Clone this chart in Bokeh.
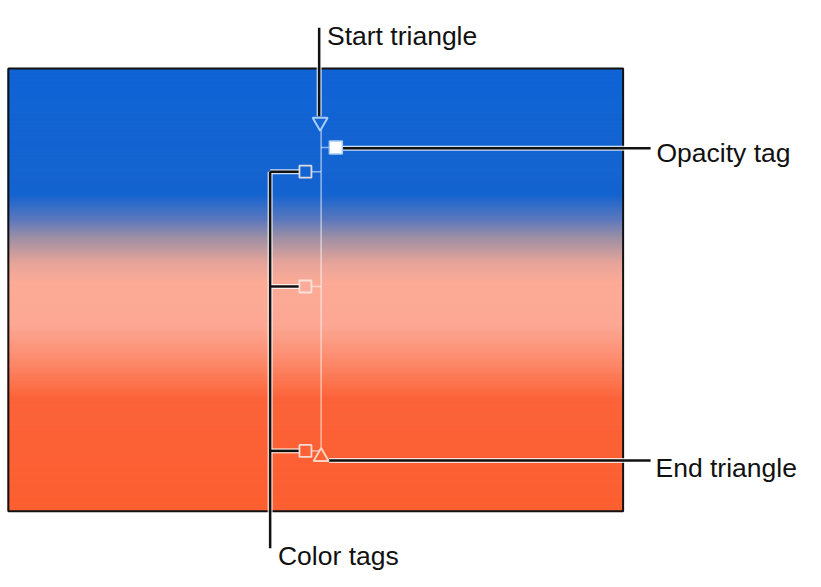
import numpy as np
from bokeh.plotting import figure
from bokeh.models import Range1d
from bokeh.core.properties import value
from bokeh.embed import file_html
from bokeh.resources import INLINE

# ---- data (reference pixel coordinates) ----
panel_x = [8, 635]
panel_y = [70, 525]
grad_stop_y = [70, 200, 225, 245, 270, 290, 335, 370, 410, 525]
grad_stop_r = [18, 22, 90, 160, 230, 252, 252, 252, 252, 252]
grad_stop_g = [100, 100, 120, 145, 165, 172, 168, 140, 100, 96]
grad_stop_b = [214, 208, 190, 165, 155, 152, 148, 110, 58, 50]

gradient_line_x = 327
gradient_line_y = [133, 463]
start_tri = (326, 125)
end_tri = (327, 469)
opacity_tag = (342, 151)
color_tag_x = 311
color_tag_y = [176, 294, 463]
color_tag_fill = ["#1464d4", "#fcab98", "#fc6236"]

labels = ["Start triangle", "Opacity tag", "End triangle", "Color tags"]
label_x = [333, 669, 668, 283]
label_y = [37, 157, 481, 571]

W, H = 805, 571
p = figure(width=W, height=H, output_backend="svg", toolbar_location=None,
           x_range=Range1d(0, 821), y_range=Range1d(587, 0),
           min_border=0, outline_line_color=None)
p.axis.visible = False
p.grid.visible = False
p.background_fill_color = "white"
p.border_fill_color = "white"

# gradient panel: overlapping quads per pixel row (no seams)
ys = np.arange(panel_y[0], panel_y[1])
r = np.interp(ys + 0.5, grad_stop_y, grad_stop_r)
g = np.interp(ys + 0.5, grad_stop_y, grad_stop_g)
b = np.interp(ys + 0.5, grad_stop_y, grad_stop_b)
cols = ["#%02x%02x%02x" % (int(a), int(c), int(d)) for a, c, d in zip(r, g, b)]
bottoms = np.minimum(ys + 3, panel_y[1])
p.quad(left=panel_x[0], right=panel_x[1], top=ys, bottom=bottoms,
       fill_color=cols, line_color=cols, line_width=1)
p.quad(left=panel_x[0], right=panel_x[1], top=panel_y[0], bottom=panel_y[1],
       fill_color=None, line_color="#111111", line_width=2)

# thin gradient control line and connectors
p.segment(x0=gradient_line_x, y0=gradient_line_y[0], x1=gradient_line_x, y1=gradient_line_y[1],
          line_color="white", line_alpha=0.55, line_width=1.5)
p.segment(x0=gradient_line_x, y0=opacity_tag[1], x1=opacity_tag[0] - 6, y1=opacity_tag[1],
          line_color="white", line_alpha=0.55, line_width=1.5)
p.segment(x0=[color_tag_x + 6] * 3, y0=color_tag_y, x1=[gradient_line_x] * 3, y1=color_tag_y,
          line_color="white", line_alpha=0.55, line_width=1.5)

# black callout lines with white halo
cx0 = [325, opacity_tag[0] + 7, 335, 275, 275, 275, 275]
cy0 = [28, 152, 473, 176, 176, 294, 463]
cx1 = [325, 663, 663, 275, 305, 305, 305]
cy1 = [119, 152, 473, 563, 176, 294, 463]
p.segment(x0=cx0, y0=cy0, x1=cx1, y1=cy1, line_color="white", line_width=5, line_alpha=0.8)
p.segment(x0=cx0, y0=cy0, x1=cx1, y1=cy1, line_color="#111111", line_width=2.5)

# markers
p.scatter([start_tri[0]], [start_tri[1]], marker="inverted_triangle", size=15,
          fill_color="#1464d4", line_color="#a8ccf5", line_width=2)
p.scatter([opacity_tag[0]], [opacity_tag[1]], marker="square", size=13,
          fill_color="white", line_color="#a8ccf5", line_width=1.5)
p.scatter([color_tag_x] * 3, color_tag_y, marker="square", size=12,
          fill_color=color_tag_fill, line_color="#f4e8e4", line_alpha=0.9, line_width=1.8)
p.scatter([end_tri[0]], [end_tri[1]], marker="triangle", size=15,
          fill_color="#fc6236", line_color="#fcd2c2", line_width=2)

# labels
p.text(x=label_x, y=label_y, text=labels, text_font=value("Liberation Sans"),
       text_font_size="26.5px", text_color="#111111", text_baseline="alphabetic",
       text_align="left")

open("out.html", "w").write(file_html(p, INLINE))
